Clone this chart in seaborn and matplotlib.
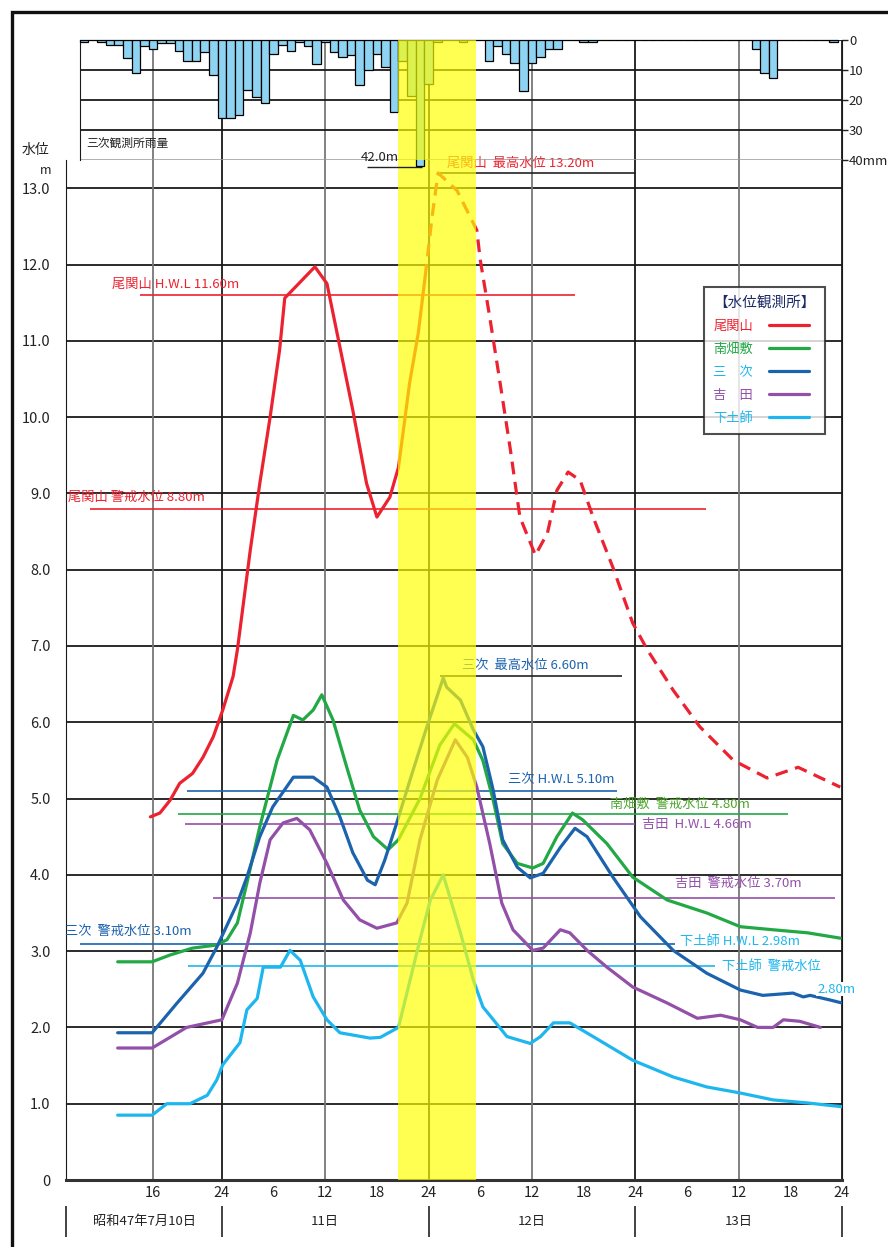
import numpy as np
import pandas as pd
import seaborn as sns
import matplotlib.pyplot as plt
from matplotlib.patches import Rectangle

# time axis: hours counted from 0:00 on 10 July (昭和47年)
rain_hours = list(range(8, 96))
rain_mm = [0.5, 0, 0.5, 1.5, 1.5, 6, 11, 2, 3, 1, 1, 3.5, 7, 7, 4, 11.5,
           26, 26, 25, 16.5, 19, 21, 4.5, 1.5, 3.5, 0.5, 2, 8, 0.5, 4, 5.5, 5,
           15, 10, 4.5, 9, 24, 7, 18.5, 42, 14.5, 0.5, 0, 0, 0.5, 0, 0,
           7, 2, 4.5, 7.5, 17, 7.5, 5.5, 3, 3, 0, 0, 0.5, 0.5,
           0, 0, 0, 0, 0, 0, 0, 0, 0, 0, 0, 0, 0, 0, 0, 0, 0, 0,
           3, 11, 12.5, 0, 0, 0, 0, 0, 0, 0.5]

# 尾関山 (solid while observed, dashed afterwards)
oze_h = [15.7, 16.8, 18.0, 19.1, 20.6, 21.8, 23.0, 24.1, 25.3, 25.8, 27.3, 28.4,
         29.6, 30.7, 31.3, 34.8, 36.2, 37.7, 39.2, 40.8, 42.0, 43.5, 44.5, 45.8,
         46.8, 47.6, 48.4, 49.1, 51.3, 53.6, 54.0, 55.1, 56.3, 57.5, 58.6, 60.4,
         61.8, 62.9, 64.2, 65.6, 67.1, 69.4, 71.7, 73.4, 76.4, 79.5, 83.4, 87.3,
         90.9, 95.8]
oze_v = [4.76, 4.81, 4.98, 5.20, 5.33, 5.54, 5.81, 6.16, 6.60, 6.95, 8.26, 9.13,
         10.0, 10.88, 11.56, 11.97, 11.75, 10.92, 10.09, 9.13, 8.69, 8.95, 9.34, 10.45,
         11.1, 11.84, 12.62, 13.2, 12.97, 12.45, 12.06, 11.31, 10.45, 9.57, 8.69, 8.19,
         8.48, 9.04, 9.28, 9.17, 8.69, 8.03, 7.30, 6.95, 6.42, 5.94, 5.50, 5.27,
         5.41, 5.15]
oze_solid_until = 47.6

# 南畑敷
min_h = [11.9, 15.9, 18.0, 20.6, 23.4, 24.6, 25.8, 26.9, 28.4, 30.4, 32.3, 33.4,
         34.6, 35.6, 36.9, 38.5, 40.0, 41.6, 43.3, 44.5, 47.0, 49.3, 51.0, 53.2,
         54.3, 55.5, 56.6, 58.3, 60.1, 61.3, 62.9, 64.7, 65.9, 68.7, 71.7, 75.7,
         80.3, 84.2, 88.0, 92.0, 95.8]
min_v = [2.86, 2.86, 2.95, 3.04, 3.08, 3.15, 3.37, 3.89, 4.63, 5.50, 6.09, 6.03,
         6.16, 6.36, 6.03, 5.41, 4.85, 4.50, 4.33, 4.46, 5.0, 5.70, 5.98, 5.77,
         5.50, 4.98, 4.41, 4.15, 4.09, 4.15, 4.50, 4.81, 4.72, 4.41, 3.97, 3.67,
         3.50, 3.32, 3.28, 3.24, 3.17]

# 三次
miy_h = [11.9, 15.9, 18.8, 21.8, 23.4, 25.8, 26.9, 28.4, 29.9, 32.3, 34.6, 36.2,
         37.7, 39.2, 40.9, 41.8, 42.9, 44.3, 46.0, 47.8, 49.7, 50.1, 51.7, 53.2,
         54.3, 55.5, 56.6, 58.3, 59.8, 61.3, 63.3, 65.0, 66.4, 69.4, 72.6, 76.4,
         80.3, 84.2, 86.8, 90.3, 91.5, 92.3, 94.6, 96.0]
miy_v = [1.93, 1.93, 2.32, 2.71, 3.05, 3.63, 3.97, 4.50, 4.89, 5.28, 5.28, 5.15,
         4.76, 4.29, 3.93, 3.87, 4.19, 4.68, 5.30, 5.94, 6.58, 6.46, 6.29, 5.90,
         5.68, 5.11, 4.46, 4.10, 3.96, 4.02, 4.36, 4.61, 4.50, 3.97, 3.45, 3.01,
         2.71, 2.49, 2.42, 2.45, 2.40, 2.42, 2.36, 2.32]

# 吉田
yos_h = [11.9, 15.9, 19.9, 24.0, 25.8, 27.3, 28.4, 29.6, 31.1, 32.7, 34.2, 36.2,
         38.1, 40.0, 42.0, 44.3, 45.5, 47.0, 49.0, 51.1, 52.5, 53.6, 55.1, 56.5,
         57.8, 60.1, 61.3, 63.3, 64.4, 66.4, 68.7, 71.7, 75.7, 79.2, 81.9, 84.2,
         86.2, 88.0, 89.2, 91.1, 93.5]
yos_v = [1.73, 1.73, 2.00, 2.10, 2.58, 3.24, 3.89, 4.46, 4.68, 4.74, 4.59, 4.15,
         3.67, 3.41, 3.30, 3.37, 3.63, 4.46, 5.24, 5.77, 5.54, 5.15, 4.41, 3.63,
         3.28, 3.01, 3.04, 3.28, 3.24, 3.01, 2.79, 2.53, 2.32, 2.12, 2.16, 2.10,
         2.00, 2.00, 2.10, 2.08, 2.00]

# 下土師
shi_h = [11.9, 15.9, 17.6, 20.3, 22.3, 23.4, 24.1, 26.1, 26.9, 28.1, 28.8, 30.8,
         31.9, 33.1, 34.6, 36.2, 37.7, 39.2, 41.2, 42.4, 44.5, 47.0, 48.2, 49.7,
         51.7, 53.2, 54.3, 57.1, 59.8, 61.0, 62.5, 64.4, 67.1, 71.7, 76.4, 80.3,
         84.2, 88.0, 92.0, 96.0]
shi_v = [0.85, 0.85, 1.00, 1.00, 1.11, 1.31, 1.51, 1.80, 2.23, 2.38, 2.79, 2.79,
         3.01, 2.88, 2.40, 2.10, 1.93, 1.90, 1.86, 1.87, 2.00, 3.15, 3.67, 4.00,
         3.24, 2.62, 2.27, 1.88, 1.79, 1.88, 2.06, 2.06, 1.88, 1.57, 1.35, 1.22,
         1.14, 1.05, 1.01, 0.96]

legend_names = ["尾関山", "南畑敷", "三　次", "吉　田", "下土師"]

# reference water levels (m)
ref_levels = [11.60, 8.80, 6.60, 5.10, 4.80, 4.66, 3.70, 3.10, 2.80, 13.20]
ref_texts = ["尾関山 H.W.L 11.60m", "尾関山 警戒水位 8.80m", "三次  最高水位 6.60m",
             "三次 H.W.L 5.10m", "南畑敷  警戒水位 4.80m", "吉田  H.W.L 4.66m",
             "吉田  警戒水位 3.70m", "三次  警戒水位 3.10m", "下土師  警戒水位",
             "尾関山  最高水位 13.20m"]
extra_texts = ["下土師 H.W.L 2.98m", "2.80m", "42.0m", "三次観測所雨量"]

tick_hours = [16, 24, 30, 36, 42, 48, 54, 60, 66, 72, 78, 84, 90, 96]
tick_labels = ["16", "24", "6", "12", "18", "24", "6", "12", "18", "24", "6", "12", "18", "24"]
grid_hours = [16, 24, 36, 48, 60, 72, 84, 96]
day_bounds = [24, 48, 72, 96]
day_centers = [15.0, 36, 60, 84]
day_labels = ["昭和47年7月10日", "11日", "12日", "13日"]
level_ticks = list(range(0, 14))
rain_ticks = [0, 10, 20, 30, 40]
rain_tick_labels = ["0", "10", "20", "30", "40mm"]
flood_window = (44.5, 53.5)

# --- styling ---
RED, GREEN, BLUE, PURPLE, CYAN = "#EC2230", "#22A845", "#1C63AE", "#9350A8", "#1DB6EE"
TXT_GREEN = "#4DA52E"

sns.set_style("white")
plt.rcParams["font.family"] = ["Noto Sans CJK JP", "DejaVu Sans"]

W, H = 888, 1247
fig = plt.figure(figsize=(W / 100, H / 100), dpi=100)
ax = fig.add_axes([66 / W, 67 / H, 776 / W, 1020 / H])
ax_r = fig.add_axes([80 / W, 1087 / H, 762 / W, 120 / H])
ax_r.patch.set_alpha(0)

x0 = 5.9
ax.set_xlim(x0, 96)
ax.set_ylim(0, 13.37)
ax_r.set_xlim(7.52, 96)

# rain bars
sns.histplot(x=rain_hours, weights=rain_mm, discrete=True, ax=ax_r,
             color="#8ED4F2", edgecolor="black", linewidth=0.9, alpha=1, zorder=3)
for p in ax_r.patches:
    p.set_clip_on(False)
ax_r.set_ylim(40, 0)
ax_r.set_xlabel("")
ax_r.set_ylabel("")
ax_r.set_xticks([])
ax_r.yaxis.tick_right()
ax_r.set_yticks(rain_ticks)
ax_r.set_yticklabels(rain_tick_labels)
ax_r.tick_params(axis="y", length=4, width=1, pad=1, labelsize=9.5, colors="#222222")
ax_r.grid(False)
for v in rain_ticks[:-1]:
    ax_r.axhline(v, color="#1a1a1a", lw=1.3, zorder=2)
for s in ["top", "bottom"]:
    ax_r.spines[s].set_visible(False)
ax_r.axhline(40, color="#999999", lw=1.8, zorder=2)
ax_r.spines["left"].set_color("#1a1a1a")
ax_r.spines["right"].set_color("#1a1a1a")
ax_r.vlines(grid_hours, 0, 1, transform=ax_r.get_xaxis_transform(),
            colors=["#1a1a1a" if h in day_bounds else "#777777" for h in grid_hours],
            lw=1.3, zorder=1)
ax_r.text(8.3, 34.5, extra_texts[3], fontsize=8.5, color="#222222", va="center", ha="left")
ax_r.text(44.6, 41.4, extra_texts[2], fontsize=9.5, color="#222222", va="bottom", ha="right",
          clip_on=False)
ax_r.hlines(42.2, 40.9, 47.2, colors="#222222", lw=1.0, clip_on=False)
ax_r.axvspan(*flood_window, color="#FFFF00", alpha=0.68, lw=0, zorder=20)

# main axes grid
ax.set_yticks(level_ticks)
ax.set_yticklabels(["0"] + [f"{v:.1f}" for v in level_ticks[1:]])
ax.set_xticks(tick_hours)
ax.set_xticklabels(tick_labels)
ax.tick_params(axis="both", length=0, labelsize=10.5, colors="#222222")
ax.tick_params(axis="y", pad=11)
ax.tick_params(axis="x", pad=4)
ax.grid(False)
for v in level_ticks[1:]:
    ax.axhline(v, color="#1a1a1a", lw=1.3, zorder=1)
ax.vlines(grid_hours, 0, 1, transform=ax.get_xaxis_transform(),
          colors=["#1a1a1a" if h in day_bounds else "#777777" for h in grid_hours],
          lw=1.3, zorder=1)
ax.spines["top"].set_visible(False)
ax.spines["bottom"].set_color("#333333")
ax.spines["bottom"].set_linewidth(2.2)
ax.spines["left"].set_color("#1a1a1a")
ax.spines["right"].set_color("#1a1a1a")

# reference lines
ref_x0 = [14.5, 8.7, 49.3, 20.0, 18.9, 19.7, 23.0, 7.5, 20.1, 49.3]
ref_x1 = [65.0, 80.2, 70.5, 69.9, 89.7, 72.0, 95.2, 76.6, 81.3, 72.1]
ref_col = [RED, RED, "#222222", BLUE, GREEN, PURPLE, PURPLE, BLUE, CYAN, "#222222"]
txt_col = [RED, RED, BLUE, BLUE, TXT_GREEN, PURPLE, PURPLE, BLUE, CYAN, RED]
txt_x = [11.2, 6.1, 51.9, 57.2, 69.1, 72.8, 76.6, 5.8, 82.1, 50.1]
txt_dy = [0.06, 0.06, 0.06, 0.06, 0.04, 0.0, 0.1, 0.07, 0.0, 0.04]
txt_va = ["bottom", "bottom", "bottom", "bottom", "bottom", "center", "bottom", "bottom",
          "center", "bottom"]
ax.hlines(ref_levels, ref_x0, ref_x1, colors=ref_col, lw=1.2, zorder=2, clip_on=False)
for t, lv, x, dy, va, c in zip(ref_texts, ref_levels, txt_x, txt_dy, txt_va, txt_col):
    ax.text(x, lv + dy, t, color=c, fontsize=9.5, ha="left", va=va, zorder=6,
            clip_on=False)
ax.text(77.2, 3.12, extra_texts[0], color=CYAN, fontsize=9.5, ha="left", va="center", zorder=6)
ax.text(93.1, 2.50, extra_texts[1], color=CYAN, fontsize=9.5, ha="left", va="center",
        zorder=6, clip_on=False,
        bbox=dict(facecolor="white", edgecolor="none", pad=0.5))

# water level curves
handles = []
split = oze_h.index(oze_solid_until) + 1
sns.lineplot(x=oze_h[:split], y=oze_v[:split], ax=ax, color=RED, lw=2.3,
             sort=False, estimator=None, zorder=5)
handles.append(ax.lines[-1])
sns.lineplot(x=oze_h[split - 1:], y=oze_v[split - 1:], ax=ax, color=RED, lw=2.3,
             sort=False, estimator=None, zorder=5)
ax.lines[-1].set_dashes((4, 2.4))
for hs, vs, c in [(min_h, min_v, GREEN), (miy_h, miy_v, BLUE),
                  (yos_h, yos_v, PURPLE), (shi_h, shi_v, CYAN)]:
    sns.lineplot(x=hs, y=vs, ax=ax, color=c, lw=2.3, sort=False, estimator=None, zorder=5)
    handles.append(ax.lines[-1])
ax.set_xlabel("")
ax.set_ylabel("")

ax.axvspan(*flood_window, color="#FFFF00", alpha=0.68, lw=0, zorder=20)

leg = ax.legend(handles, legend_names, loc="upper left", bbox_to_anchor=(0.814, 0.882),
                markerfirst=False, title="【水位観測所】", fontsize=9.5, title_fontsize=10.5,
                frameon=True, fancybox=False, handlelength=3.0, handletextpad=1.2,
                labelspacing=0.75, borderpad=0.7)
leg.get_frame().set_edgecolor("#222222")
leg.get_frame().set_linewidth(1.5)
leg.get_title().set_color("#1C2A66")
leg._legend_box.align = "left"
for t, c in zip(leg.get_texts(), [RED, GREEN, CYAN, PURPLE, CYAN]):
    t.set_color(c)
leg.set_zorder(15)

# day labels under the hour ticks
xt = ax.get_xaxis_transform()
ax.vlines([x0] + day_bounds, -0.056, -0.025, transform=xt, colors="#222222", lw=1.2,
          clip_on=False)
for x, t in zip(day_centers, day_labels):
    ax.text(x, -0.041, t, transform=xt, ha="center", va="center", fontsize=9.5,
            color="#222222")

fig.text(35 / W, 1 - 150 / H, "水位", fontsize=10, ha="center", va="center", color="#222222")
fig.text(46 / W, 1 - 170 / H, "m", fontsize=9, ha="center", va="center", color="#222222")

fig.add_artist(Rectangle((12 / W, -0.05), 1.2, 1 - 12 / H + 0.05, transform=fig.transFigure,
                         fill=False, edgecolor="#111111", lw=2.4))

fig.savefig("out.png", dpi=100)
